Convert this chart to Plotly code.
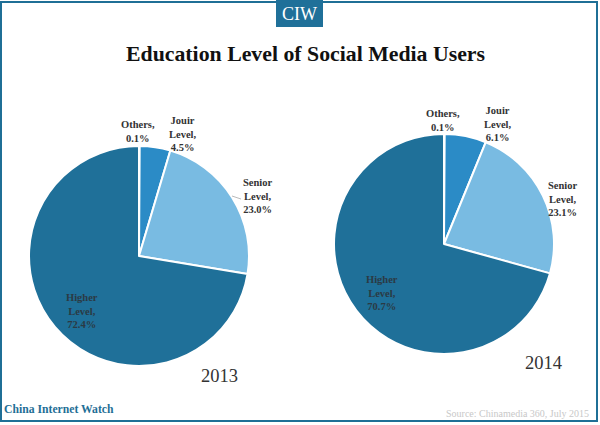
import plotly.graph_objects as go

W = 600
H = 425

labels = ['Others', 'Jouir Level', 'Senior Level', 'Higher Level']
values_2013 = [0.1, 4.5, 23.0, 72.4]
values_2014 = [0.1, 6.1, 23.1, 70.7]
colors = ['#1f7099', '#2b8bc6', '#79bbe2', '#1f7099']
years = ['2013', '2014']
text_2013 = ['Others,<br>0.1%', 'Jouir<br>Level,<br>4.5%', 'Senior<br>Level,<br>23.0%', 'Higher<br>Level,<br>72.4%']
text_2014 = ['Others,<br>0.1%', 'Jouir<br>Level,<br>6.1%', 'Senior<br>Level,<br>23.1%', 'Higher<br>Level,<br>70.7%']


def px_x(x):
    return x / W


def px_y(y):
    return 1 - y / H


def pie(values, left, right, top, bottom, name):
    return go.Pie(labels=labels, values=values, name=name, sort=False, direction='clockwise', rotation=0,
                  textinfo='none', showlegend=False, marker=dict(colors=colors, line=dict(color='white', width=2)),
                  domain=dict(x=[px_x(left), px_x(right)], y=[px_y(bottom), px_y(top)]))


def note(text, x, y, size=10.5, color='#333333', family='Liberation Serif', bold=True):
    return dict(text='<b>%s</b>' % text if bold else text, x=px_x(x), y=px_y(y), xref='paper', yref='paper',
                showarrow=False, align='center', xanchor='center', yanchor='middle',
                font=dict(size=size, color=color, family=family))


fig = go.Figure()
fig.add_trace(pie(values_2013, 29, 249, 146, 366, years[0]))
fig.add_trace(pie(values_2014, 334, 554, 134, 354, years[1]))

notes = [
    note('Education Level of Social Media Users', 305, 54, size=21.8, color='#111111'),
    note('CIW', 299, 14, size=18, color='white', bold=False),
    note(text_2013[0], 138, 131), note(text_2013[1], 182, 134), note(text_2013[2], 258, 196),
    note(text_2013[3], 82, 311, color='#2b3a44'),
    note(text_2014[0], 443, 121), note(text_2014[1], 497, 124), note(text_2014[2], 563, 199),
    note(text_2014[3], 382, 293, color='#2b3a44'),
    note(years[0], 219, 376, size=18.5, bold=False),
    note(years[1], 543, 363, size=18.5, bold=False),
    note('China Internet Watch', 59, 409, size=11.7, color='#1f6f96'),
    note('Source: Chinamedia 360, July 2015', 517, 413, size=10, color='#c8c8c8', bold=False),
]

shapes = [
    dict(type='rect', xref='paper', yref='paper', x0=px_x(1), x1=px_x(597), y0=px_y(421), y1=px_y(2),
         line=dict(color='#1f6f96', width=2), layer='below'),
    dict(type='rect', xref='paper', yref='paper', x0=px_x(276), x1=px_x(323), y0=px_y(27), y1=px_y(0),
         fillcolor='#1f7099', line=dict(width=0), layer='below'),
    dict(type='line', xref='paper', yref='paper', x0=px_x(232), x1=px_x(241), y0=px_y(196), y1=px_y(199),
         line=dict(color='#bbbbbb', width=1)),
]

fig.update_layout(width=W, height=H, margin=dict(l=0, r=0, t=0, b=0), paper_bgcolor='white',
                  annotations=notes, shapes=shapes)
# page default margin would push the figure 8px in
fig.write_html("out.html", config=dict(displayModeBar=False), post_script="document.body.style.margin='0';")
